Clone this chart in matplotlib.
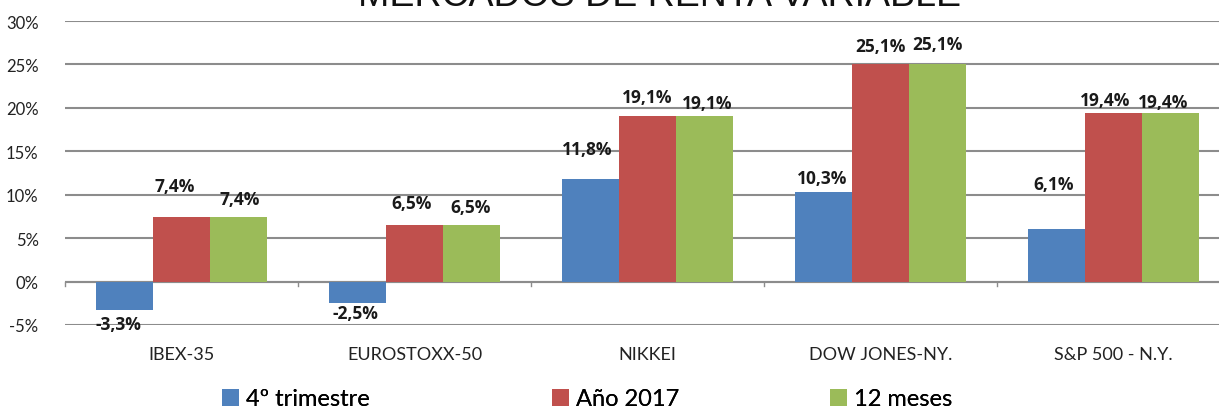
import numpy as np
import matplotlib
matplotlib.use('Agg')
import matplotlib.pyplot as plt
from matplotlib.patches import Patch

# data
categories = ['IBEX-35', 'EUROSTOXX-50', 'NIKKEI', 'DOW JONES-NY.', 'S&P 500 - N.Y.']
series_names = ['4º trimestre', 'Año 2017', '12 meses']
q4 = [-3.3, -2.5, 11.8, 10.3, 6.1]
year_2017 = [7.4, 6.5, 19.1, 25.1, 19.4]
months_12 = [7.4, 6.5, 19.1, 25.1, 19.4]
y_ticks = [-5, 0, 5, 10, 15, 20, 25, 30]

colors = ['#4F81BD', '#C0504D', '#9BBB59']

# hand-placed label nudges (pixels, dx right / dy up from bar end), like the original
label_nudge = [
    [(-6, -14), (-2, -10), (-3, 30), (-1, 14), (-3, 45)],
    [(-7, 31), (-3, 22), (0, 19), (0, 18), (-8, 13)],
    [(1, 18), (-1, 18), (3, 13), (0, 20), (-7, 11)],
]
# left edge of each legend swatch, in figure pixels
legend_x = [222, 552, 830]

fig = plt.figure(figsize=(12.19, 4.10), dpi=100)
ax = fig.add_axes([65 / 1219, 84 / 410, 1165 / 1219, 304 / 410])

x = np.arange(len(categories))
w = 0.245
all_series = [q4, year_2017, months_12]

for k, vals in enumerate(all_series):
    pos = x + (k - 1) * w
    bars = ax.bar(pos, vals, width=w, color=colors[k], zorder=3)
    for j, (b, v) in enumerate(zip(bars, vals)):
        dx, dy = label_nudge[k][j]
        ax.annotate(f'{v:.1f}%'.replace('.', ','),
                    xy=(b.get_x() + b.get_width() / 2, v),
                    xytext=(dx * 0.72, dy * 0.72), textcoords='offset points',
                    ha='center', va='center', fontsize=12.5, fontweight='bold',
                    family='Open Sans', color='#1a1a1a', zorder=4)

ax.set_xlim(-0.5, len(categories) - 0.5)
ax.set_ylim(-5, 30)
ax.set_yticks(y_ticks)
ax.set_yticklabels([f'{t}%' for t in y_ticks], family='Lato', fontsize=12, color='#222222')
ax.tick_params(axis='y', length=0, pad=19)
ax.grid(axis='y', color='#8c8c8c', linewidth=1.5, zorder=0)
for s in ax.spines.values():
    s.set_visible(False)

# category axis sitting at zero, with divider ticks
ax.axhline(0, color='#8c8c8c', linewidth=1.5, zorder=2)
ax.set_xticks([])
for b in np.arange(-0.5, len(categories), 1.0):
    ax.plot([b, b], [0, -0.55], color='#8c8c8c', linewidth=1, zorder=2, clip_on=False)
for i, c in enumerate(categories):
    ax.annotate(c, xy=(x[i], -5), xytext=(0, -21), textcoords='offset points',
                ha='center', va='center', family='Lato', fontsize=13, color='#222222')

# title is mostly cut off at the top in the reference
fig.text(660 / 1219, 1 - 6 / 410, 'MERCADOS DE RENTA VARIABLE', ha='center', va='baseline',
         family='Liberation Sans', fontsize=27, color='#111111')

for k, name in enumerate(series_names):
    leg = fig.legend([Patch(facecolor=colors[k])], [name], loc='center left',
                     bbox_to_anchor=(legend_x[k] / 1219, 1 - 400 / 410),
                     frameon=False, borderpad=0, borderaxespad=0,
                     handlelength=0.72, handleheight=0.72, handletextpad=0.3,
                     prop={'family': 'Lato', 'size': 17})
    fig.add_artist(leg)

fig.savefig('out.png', dpi=100)
